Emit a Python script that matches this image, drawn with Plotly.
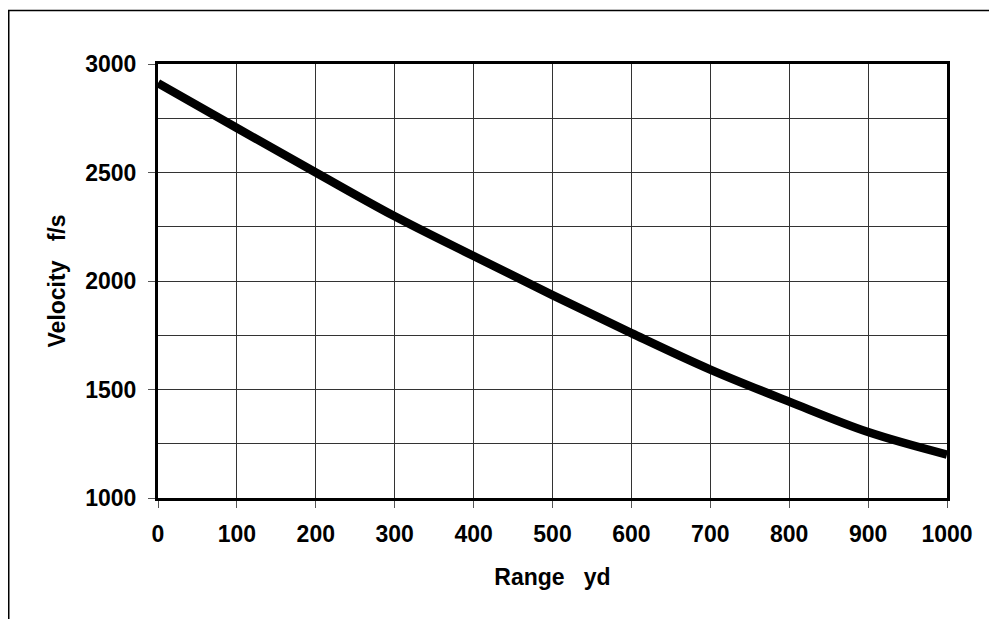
import plotly.graph_objects as go

range_yd = [0, 100, 200, 300, 400, 500, 600, 700, 800, 900, 1000]
velocity_fs = [2912, 2705, 2500, 2298, 2115, 1935, 1760, 1592, 1444, 1304, 1200]

x_ticks = [0, 100, 200, 300, 400, 500, 600, 700, 800, 900, 1000]
y_ticks = [1000, 1500, 2000, 2500, 3000]

# page body has an 8px margin; figure sized to fit the 997x619 window
OFF = 8
W, H = 997 - OFF, 619 - OFF
L, R, T, B = 158 - OFF, 947 - OFF, 64 - OFF, 498 - OFF

font = dict(family="Liberation Sans, Arial, sans-serif", size=23, color="black", weight="bold")

fig = go.Figure()
fig.add_trace(go.Scatter(x=range_yd, y=velocity_fs, mode="lines",
                         line=dict(color="black", width=8.5, shape="spline", smoothing=1.0),
                         showlegend=False, hoverinfo="skip"))

axis_common = dict(showline=True, linecolor="black", linewidth=3, mirror=True,
                   showgrid=True, gridcolor="#333333", gridwidth=1,
                   ticks="outside", ticklen=7, tickcolor="#555555", tickwidth=1,
                   tickfont=font, zeroline=False)

fig.update_xaxes(range=[0, 1000], tickvals=x_ticks, ticklabelstandoff=6,
                 title=dict(text="Range\u00a0\u00a0\u00a0yd", font=font, standoff=24),
                 **axis_common)
fig.update_yaxes(range=[1000, 3000], tickvals=y_ticks, ticklabelstandoff=7,
                 minor=dict(dtick=250, tick0=1000, showgrid=True, gridcolor="#333333", gridwidth=1, ticks=""),
                 title=dict(text="Velocity\u00a0\u00a0\u00a0f/s", font=font, standoff=14),
                 **axis_common)

pw, ph = R - L, B - T
def px_to_paper_x(px):
    return (px - L) / pw
def px_to_paper_y(py):
    return (B - py) / ph

fig.add_shape(type="path", xref="paper", yref="paper",
              path=f"M {px_to_paper_x(1000)} {px_to_paper_y(2.5)} L {px_to_paper_x(0.75)} {px_to_paper_y(2.5)} L {px_to_paper_x(0.75)} {px_to_paper_y(620)}",
              line=dict(color="black", width=1.5), layer="below")

fig.update_layout(width=W, height=H, autosize=False,
                  margin=dict(l=L, r=W - R, t=T, b=H - B, pad=0),
                  paper_bgcolor="white", plot_bgcolor="white", font=font)

fig.write_html("out.html")
